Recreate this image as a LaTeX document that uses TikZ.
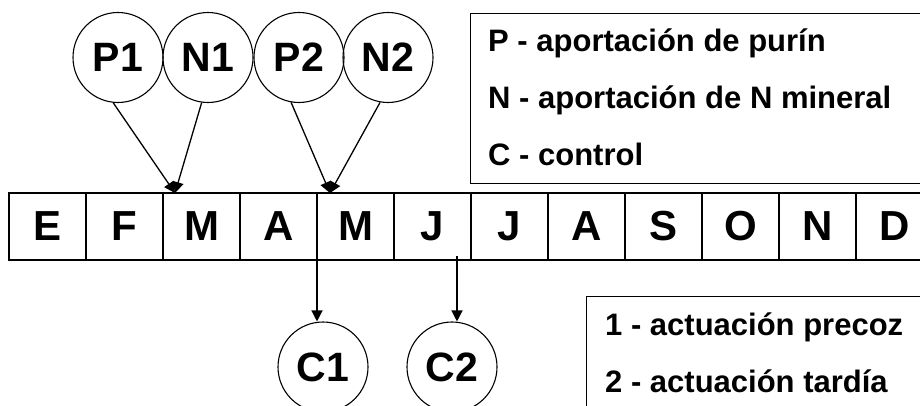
\documentclass[tikz,border=0pt]{standalone}
\usepackage{fontspec}
\setmainfont{Liberation Sans}
\usetikzlibrary{arrows.meta}
\tikzset{
  circ/.style={circle,draw,line width=1.1pt,minimum size=90pt,inner sep=0pt,font=\fontsize{41}{44}\selectfont\bfseries},
  month/.style={rectangle,draw,line width=1.3pt,minimum width=77pt,minimum height=67pt,inner sep=0pt,font=\fontsize{42}{44}\selectfont\bfseries},
  legbox/.style={rectangle,draw,line width=1.1pt,anchor=north west,inner sep=0pt},
  legtxt/.style={anchor=base west,inner sep=0pt,font=\fontsize{31}{36}\selectfont\bfseries},
  arr/.style={line width=1.3pt,-{Triangle[length=11pt,width=11pt]}}
}
\begin{document}
\begin{tikzpicture}[x=1pt,y=-1pt]
\useasboundingbox (0,0) rectangle (920,406);
\clip (0,0) rectangle (920,406);
% months
\foreach \m [count=\i from 0] in {E,F,M,A,M,J,J,A,S,O,N,D}{
  \node[month] (m\i) at ({9+77*(\i+0.5)},226.5) {\m};
}
% top circles
\node[circ] (P1) at (118,57.5) {P1};
\node[circ] (N1) at (208,57.5) {N1};
\node[circ] (P2) at (299,57.5) {P2};
\node[circ] (N2) at (388,57.5) {N2};
\coordinate (t1) at (175,193);
\coordinate (t2) at (330,193);
\draw[arr] (P1.-96) -- (t1);
\draw[arr] (N1.-98) -- (t1);
\draw[arr] (P2.-100) -- (t2);
\draw[arr] (N2.-100) -- (t2);
% legend 1
\node[legbox,minimum width=520pt,minimum height=170pt] (L1) at (470,13) {};
\node[legtxt] (l1a) at (488,52) {P - aportación de purín};
\node[legtxt] (l1b) at (488,109) {N - aportación de N mineral};
\node[legtxt] (l1c) at (488,166) {C - control};
% bottom circles
\node[circ] (C1) at (323,367) {C1};
\node[circ] (C2) at (452,367) {C2};
\coordinate (s1) at (317,260);
\coordinate (s2) at (457,256);
\draw[arr] (s1) -- (s1 |- C1.north);
\draw[arr] (s2) -- (s2 |- C2.north);
% legend 2
\node[legbox,minimum width=400pt,minimum height=200pt] (L2) at (586,296) {};
\node[legtxt] (l2a) at (605,335) {1 - actuación precoz};
\node[legtxt] (l2b) at (605,392) {2 - actuación tardía};
\end{tikzpicture}
\end{document}
